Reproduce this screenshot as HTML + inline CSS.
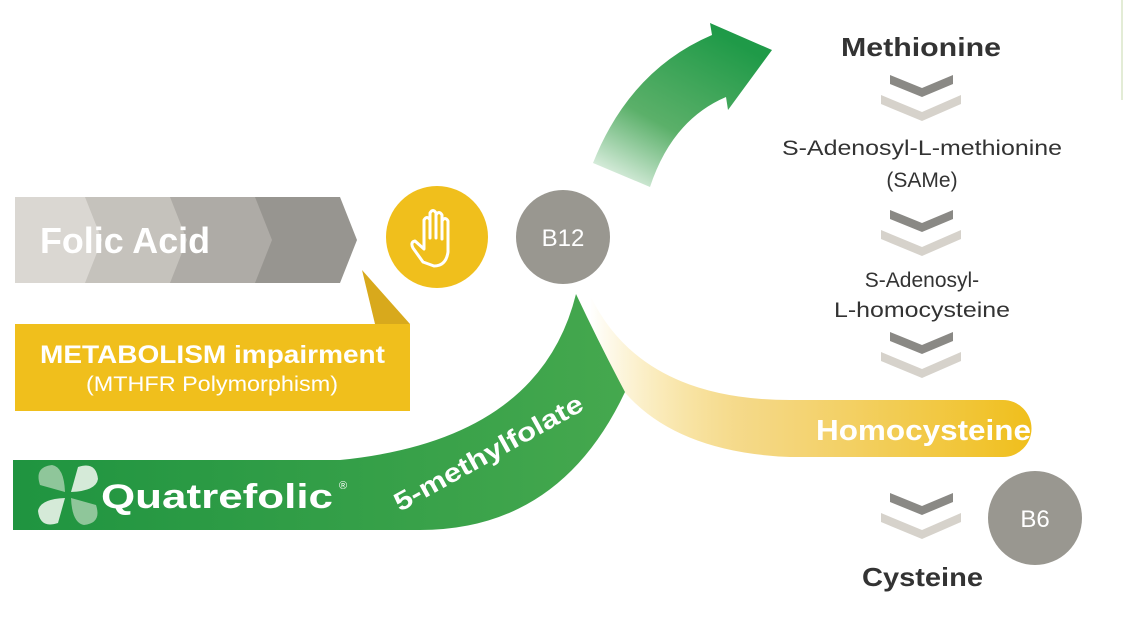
<!DOCTYPE html>
<html><head><meta charset="utf-8"><style>
body{margin:0;background:#fff;}
svg{display:block;font-family:"Liberation Sans",sans-serif;}
</style></head><body>
<svg width="1124" height="627" viewBox="0 0 1124 627" xmlns="http://www.w3.org/2000/svg">
<defs>
<linearGradient id="ga" x1="0" y1="1" x2="0.6" y2="0">
<stop offset="0" stop-color="#2e9b45" stop-opacity="0"/>
<stop offset="0.45" stop-color="#3ea24f" stop-opacity="0.85"/>
<stop offset="1" stop-color="#1f9a48"/>
</linearGradient>
<linearGradient id="gy" x1="590" y1="0" x2="1030" y2="0" gradientUnits="userSpaceOnUse">
<stop offset="0" stop-color="#f0bf1c" stop-opacity="0"/>
<stop offset="0.35" stop-color="#f2cf6a" stop-opacity="0.8"/>
<stop offset="1" stop-color="#f0bf1c"/>
</linearGradient>
<linearGradient id="gg" x1="0" y1="0" x2="1" y2="0">
<stop offset="0" stop-color="#1f9440"/>
<stop offset="1" stop-color="#45a84e"/>
</linearGradient>
</defs>
<line x1="1122" y1="0" x2="1122" y2="100" stroke="#e3ecd6" stroke-width="2"/>
<polygon points="15,197 340,197 357,240 340,283 15,283" fill="#979590"/>
<polygon points="15,197 255,197 272,240 255,283 15,283" fill="#aeaba6"/>
<polygon points="15,197 170,197 187,240 170,283 15,283" fill="#c5c2bc"/>
<polygon points="15,197 85,197 102,240 85,283 15,283" fill="#dad7d2"/>
<text x="40" y="253" font-size="36" font-weight="bold" fill="#fff" textLength="170" lengthAdjust="spacingAndGlyphs">Folic Acid</text>
<polygon points="362,270 410,324 375,324" fill="#d8a91c"/>
<rect x="15" y="324" width="395" height="87" fill="#f0bf1c"/>
<text x="40" y="363" font-size="25" font-weight="bold" fill="#fff" textLength="345" lengthAdjust="spacingAndGlyphs">METABOLISM impairment</text>
<text x="86" y="391" font-size="21" fill="#fff" textLength="252" lengthAdjust="spacingAndGlyphs">(MTHFR Polymorphism)</text>
<circle cx="437" cy="237" r="51" fill="#f0bf1c"/>
<path d="M423,262 L413,248 Q410,242 415,241 L424,249 L424,220 Q427,215 430,220 L430,238 L430,213 Q433,208 436,213 L436,238 L436,215 Q439,210 442,215 L442,239 L442,221 Q445,216 448,221 L448,252 Q446,266 434,266 Z" fill="none" stroke="#fff" stroke-width="3" stroke-linejoin="round"/>
<circle cx="563" cy="237" r="47" fill="#999790"/>
<text x="563" y="246" font-size="24" fill="#fff" text-anchor="middle">B12</text>
<path d="M593,163 Q630,70 712,35 L710,23 L772,50 L728,110 L726,97 Q672,120 650,187 Z" fill="url(#ga)"/>
<path d="M590,295 Q640,400 790,400 L1003,400 A28.5,28.5 0 0 1 1003,457 L790,457 Q610,450 583,300 Z" fill="url(#gy)"/>
<text x="816" y="440" font-size="29" font-weight="bold" fill="#fff" textLength="215" lengthAdjust="spacingAndGlyphs">Homocysteine</text>
<path d="M13,460 L340,460 Q540,440 576,294 Q600,345 625,392 Q560,530 420,530 L13,530 Z" fill="url(#gg)"/>
<text x="0" y="0" font-size="26" font-weight="bold" fill="#fff" textLength="212" lengthAdjust="spacingAndGlyphs" transform="translate(400,512) rotate(-29)">5-methylfolate</text>
<g transform="translate(68,495)">
<path d="M-3,-3 L-28,-10 Q-34,-28 -16,-30 Q-4,-28 -3,-3Z" fill="#8fc69a"/>
<path d="M3,-3 L10,-28 Q28,-34 30,-16 Q28,-4 3,-3Z" fill="#d5ead8"/>
<path d="M3,3 L28,10 Q34,28 16,30 Q4,28 3,3Z" fill="#8fc69a"/>
<path d="M-3,3 L-10,28 Q-28,34 -30,16 Q-28,4 -3,3Z" fill="#d5ead8"/>
</g>
<text x="101" y="508" font-size="34" font-weight="bold" fill="#fff" textLength="232" lengthAdjust="spacingAndGlyphs">Quatrefolic</text>
<text x="339" y="489" font-size="11" fill="#fff">®</text>
<g fill="#333">
<text x="841" y="56" font-size="26" font-weight="bold" textLength="160" lengthAdjust="spacingAndGlyphs">Methionine</text>
<text x="782" y="155" font-size="21" textLength="280" lengthAdjust="spacingAndGlyphs">S-Adenosyl-L-methionine</text>
<text x="922" y="187" font-size="21" text-anchor="middle">(SAMe)</text>
<text x="922" y="287" font-size="21" text-anchor="middle">S-Adenosyl-</text>
<text x="834" y="317" font-size="21" textLength="176" lengthAdjust="spacingAndGlyphs">L-homocysteine</text>
<text x="862" y="586" font-size="26" font-weight="bold" textLength="121" lengthAdjust="spacingAndGlyphs">Cysteine</text>
</g>
<g id="chev">
<polygon points="881,95 922,112 961,95 961,104 922,121 881,104" fill="#d6d2cb"/>
<polygon points="890,75 922,88 953,75 953,84 922,97 890,84" fill="#8a8985"/>
</g>
<use href="#chev" y="135"/>
<use href="#chev" y="257"/>
<use href="#chev" y="418"/>
<circle cx="1035" cy="518" r="47" fill="#999790"/>
<text x="1035" y="527" font-size="24" fill="#fff" text-anchor="middle">B6</text>
</svg>
</body></html>
